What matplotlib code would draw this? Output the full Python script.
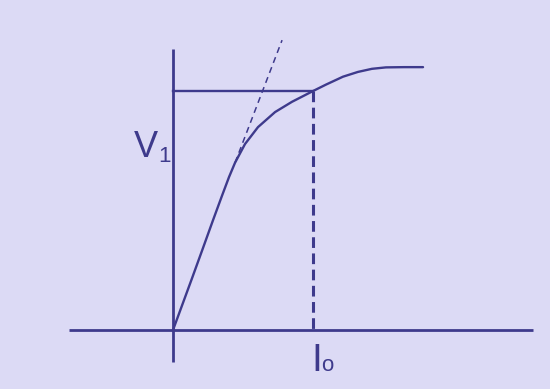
import numpy as np
import matplotlib.pyplot as plt

# current I (in units of I0) and voltage V (in units of V1)
curve_i = [0.0, 0.133, 0.211, 0.286, 0.35, 0.40, 0.443, 0.514, 0.607, 0.729,
           0.85, 1.0, 1.093, 1.214, 1.321, 1.421, 1.521, 1.65, 1.786]
curve_v = [0.0, 0.212, 0.338, 0.46, 0.562, 0.64, 0.70, 0.778, 0.849, 0.912,
           0.955, 1.0, 1.027, 1.06, 1.08, 1.093, 1.099, 1.1, 1.1]
tangent_i = [0.443, 0.779]
tangent_v = [0.70, 1.213]
i0 = 1.0
v1 = 1.0

ink = '#3e3a8c'
bg = '#dcdaf5'
font = ['Liberation Sans', 'DejaVu Sans']

fig = plt.figure(figsize=(5.5, 3.89), dpi=100, facecolor=bg)
ax = fig.add_axes([0, 0, 1, 1])
ax.set_facecolor(bg)
ax.set_xlim(-1.236, 2.693)
ax.set_ylim(-0.247, 1.381)
ax.axis('off')

# axes
ax.plot([0, 0], [-0.134, 1.176], color=ink, lw=2.0, solid_capstyle='butt')
ax.plot([-0.743, 2.571], [0, 0], color=ink, lw=2.0, solid_capstyle='butt')

# V-I curve
ax.plot(curve_i, curve_v, color=ink, lw=1.7, solid_capstyle='round',
        solid_joinstyle='round')

# tangent to the initial part
ax.plot(tangent_i, tangent_v, color=ink, lw=1.1, dashes=(4, 3))

# operating point
ax.plot([0, i0], [v1, v1], color=ink, lw=1.7)
ax.plot([i0, i0], [v1, 0], color=ink, lw=2.2, dashes=(3.5, 1.8))

ax.text(-0.279, 0.724, 'V', color=ink, fontsize=26, family=font, va='baseline', ha='left')
ax.text(-0.107, 0.703, '1', color=ink, fontsize=16, family=font, va='baseline', ha='left')
ax.text(0.986, -0.172, 'I', color=ink, fontsize=28, family=font, va='baseline', ha='left')
ax.text(1.057, -0.172, 'o', color=ink, fontsize=16, family=font, va='baseline', ha='left')

fig.savefig('out.png', dpi=100, facecolor=bg)
